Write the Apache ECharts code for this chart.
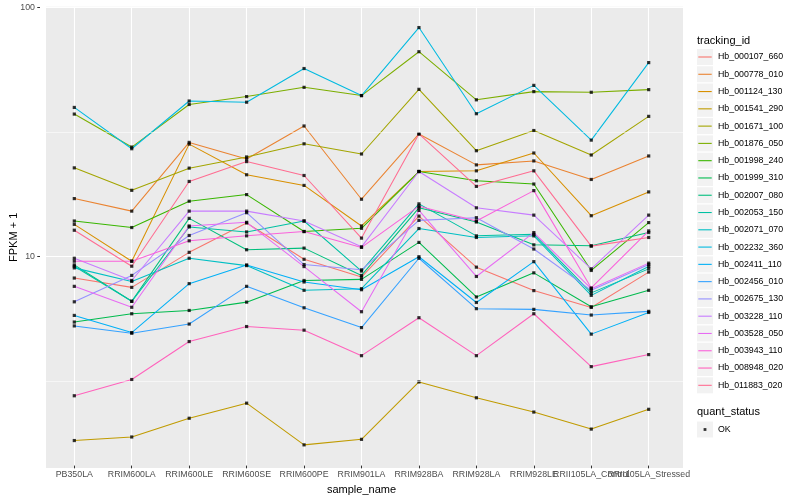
<!DOCTYPE html>
<html><head><meta charset="utf-8">
<script src="https://cdn.jsdelivr.net/npm/echarts@6.0.0/dist/echarts.min.js"></script>
<style>html,body{margin:0;padding:0;background:#fff}#c{width:800px;height:500px}</style>
</head><body><div id="c"></div>
<script>
const categories = ['PB350LA','RRIM600LA','RRIM600LE','RRIM600SE','RRIM600PE','RRIM901LA','RRIM928BA','RRIM928LA','RRIM928LE','RRII105LA_Control','RRII105LA_Stressed'];
const yTickRange = [10, 100];
const minorGridValues = [3.162, 31.62];
const seriesNames = ['Hb_000107_660','Hb_000778_010','Hb_001124_130','Hb_001541_290','Hb_001671_100','Hb_001876_050','Hb_001998_240','Hb_001999_310','Hb_002007_080','Hb_002053_150','Hb_002071_070','Hb_002232_360','Hb_002411_110','Hb_002456_010','Hb_002675_130','Hb_003228_110','Hb_003528_050','Hb_003943_110','Hb_008948_020','Hb_011883_020'];
const qualityLevels = ['OK'];

const hb_000107_660 = [8.07, 7.40, 10.25, 13.47, 9.61, 8.14, 14.36, 8.93, 7.18, 6.14, 8.53];
const hb_000778_010 = [16.90, 15.04, 28.50, 24.43, 33.20, 16.80, 30.84, 23.12, 23.99, 20.19, 25.12];
const hb_001124_130 = [13.30, 9.44, 28.05, 21.09, 19.10, 13.10, 21.74, 21.88, 25.82, 14.41, 17.98];
const hb_001541_290 = [1.78, 1.84, 2.19, 2.52, 1.71, 1.80, 3.07, 2.65, 2.32, 1.98, 2.38];
const hb_001671_100 = [22.49, 18.25, 22.43, 24.89, 28.13, 25.59, 46.69, 26.38, 31.83, 25.35, 36.31];
const hb_001876_050 = [37.09, 27.29, 40.55, 43.65, 47.56, 44.06, 66.25, 42.35, 45.71, 45.42, 46.56];
const hb_001998_240 = [13.72, 12.91, 16.49, 17.54, 12.44, 12.82, 21.74, 19.95, 19.35, 8.66, 13.52];
const hb_001999_310 = [5.36, 5.79, 5.97, 6.45, 7.89, 7.97, 11.24, 6.77, 8.47, 6.18, 7.20];
const hb_002007_080 = [9.12, 6.50, 14.06, 10.50, 10.66, 8.27, 15.51, 13.59, 10.99, 10.89, 12.32];
const hb_002053_150 = [9.01, 6.50, 12.98, 12.39, 13.72, 8.61, 16.09, 11.95, 12.13, 7.03, 8.79];
const hb_002071_070 = [8.87, 7.82, 9.70, 9.06, 7.20, 7.31, 12.79, 11.77, 11.95, 6.87, 8.98];
const hb_002232_360 = [39.45, 26.87, 41.88, 41.42, 56.66, 44.06, 82.94, 37.22, 48.44, 29.11, 59.88];
const hb_002411_110 = [5.70, 4.86, 7.66, 9.12, 7.78, 7.24, 9.84, 6.43, 9.40, 4.79, 5.86];
const hb_002456_010 = [5.17, 4.83, 5.26, 7.47, 6.12, 5.09, 9.70, 6.07, 6.03, 5.72, 5.92];
const hb_002675_130 = [6.47, 8.27, 11.99, 14.82, 9.15, 8.71, 13.80, 14.15, 10.57, 7.20, 9.15];
const hb_003228_110 = [9.70, 7.89, 15.04, 15.04, 13.72, 10.79, 21.74, 15.51, 14.49, 8.79, 14.49];
const hb_003528_050 = [7.47, 6.15, 13.10, 13.55, 8.98, 5.90, 15.14, 8.19, 12.32, 7.31, 9.27];
const hb_003943_110 = [9.44, 9.44, 11.41, 11.95, 12.44, 10.73, 15.75, 13.72, 18.20, 7.36, 12.51];
const hb_008948_020 = [2.70, 3.14, 4.47, 5.14, 4.97, 3.92, 5.58, 3.92, 5.79, 3.54, 3.96];
const hb_011883_020 = [12.59, 9.01, 19.82, 23.84, 20.95, 11.70, 30.84, 18.93, 21.88, 10.86, 11.77];

const seriesValues = [hb_000107_660, hb_000778_010, hb_001124_130, hb_001541_290, hb_001671_100, hb_001876_050, hb_001998_240, hb_001999_310, hb_002007_080, hb_002053_150, hb_002071_070, hb_002232_360, hb_002411_110, hb_002456_010, hb_002675_130, hb_003228_110, hb_003528_050, hb_003943_110, hb_008948_020, hb_011883_020];

const palette = ['#F8766D','#EA8331','#D89000','#C09B00','#A3A500','#7CAE00','#39B600','#00BB4E','#00BF7D','#00C1A3','#00BFC4','#00BAE0','#00B0F6','#35A2FF','#9590FF','#C77CFF','#E76BF3','#FA62DB','#FF62BC','#FF6C91'];

const FONT = "'Liberation Sans', Arial, Helvetica, sans-serif";
const Y_MIN = 1.41, Y_MAX = 100.7;
const PANEL_TOP = 6.7, PANEL_BOTTOM = 32, PANEL_LEFT = 40, PANEL_RIGHT = 117;
// layout of a helper grid whose vertical extent is exactly the 10..100 decade
const panelH = 500 - PANEL_TOP - PANEL_BOTTOM;
const pxPerDecade = panelH / (Math.log10(Y_MAX) - Math.log10(Y_MIN));
const tickGridTop = PANEL_TOP + pxPerDecade * (Math.log10(Y_MAX) - Math.log10(yTickRange[1]));
const tickGridBottom = 500 - (tickGridTop + pxPerDecade * (Math.log10(yTickRange[1]) - Math.log10(yTickRange[0])));

const chart = echarts.init(document.getElementById('c'), null, {renderer: 'canvas'});

const lineSeries = seriesNames.map((n, i) => ({
  name: n, type: 'line', xAxisIndex: 1, yAxisIndex: 1,
  data: seriesValues[i], symbol: 'none', showSymbol: false,
  lineStyle: {color: palette[i], width: 1.05}, itemStyle: {color: palette[i]},
  emphasis: {disabled: true}, silent: true, z: 2
}));

const pointData = [];
seriesValues.forEach(vals => vals.forEach((v, j) => pointData.push([j, v])));

const logLabel = v => {
  const l = Math.log10(v);
  return Math.abs(l - Math.round(l)) < 1e-6 ? String(Math.round(v)) : '';
};

const legendKeyY0 = 49, legendPitch = 17.28;
const graphics = seriesNames.map((n, i) => ({
  type: 'rect', silent: true, z: 0,
  shape: {x: 697, y: legendKeyY0 + i * legendPitch, width: 16, height: 16},
  style: {fill: '#F2F2F2'}
}));
graphics.push({type: 'rect', silent: true, z: 0, shape: {x: 697, y: 421.5, width: 16, height: 16}, style: {fill: '#F2F2F2'}});
graphics.push({type: 'text', z: 5, style: {x: 697, y: 40.7, text: 'tracking_id', fill: '#000', font: '11px ' + FONT, verticalAlign: 'middle'}});
graphics.push({type: 'text', z: 5, style: {x: 697, y: 412.3, text: 'quant_status', fill: '#000', font: '11px ' + FONT, verticalAlign: 'middle'}});

const option = {
  animation: false,
  backgroundColor: '#ffffff',
  textStyle: {fontFamily: FONT},
  grid: [
    {left: PANEL_LEFT, right: PANEL_RIGHT, top: PANEL_TOP, bottom: PANEL_BOTTOM, show: true, backgroundColor: '#EBEBEB', borderWidth: 0},
    {left: 74.3, right: 151.3, top: PANEL_TOP, bottom: PANEL_BOTTOM, show: false},
    {left: PANEL_LEFT, right: PANEL_RIGHT, top: tickGridTop, bottom: tickGridBottom, show: false}
  ],
  xAxis: [
    {type: 'value', gridIndex: 0, min: 0, max: 1, show: false},
    {type: 'category', gridIndex: 1, data: categories, boundaryGap: false,
     axisLine: {show: false},
     axisTick: {show: true, length: 2.75, lineStyle: {color: '#333333', width: 1}},
     axisLabel: {interval: 0, hideOverlap: false, fontSize: 8.8, color: '#4D4D4D', margin: 4.5, fontFamily: FONT},
     splitLine: {show: true, lineStyle: {color: '#ffffff', width: 1.1}},
     name: 'sample_name', nameLocation: 'middle', nameGap: 15,
     nameTextStyle: {fontSize: 11, color: '#000', fontFamily: FONT}},
    {type: 'value', gridIndex: 2, min: 0, max: 1, show: false}
  ],
  yAxis: [
    {type: 'log', logBase: 10, gridIndex: 0, min: Y_MIN, max: Y_MAX, show: true,
     axisLine: {show: false}, axisTick: {show: false}, axisLabel: {show: false}, splitLine: {show: false},
     name: 'FPKM + 1', nameLocation: 'middle', nameRotate: 90, nameGap: 27,
     nameTextStyle: {fontSize: 11, color: '#000', fontFamily: FONT}},
    {type: 'log', logBase: 10, gridIndex: 1, min: Y_MIN, max: Y_MAX, show: false},
    {type: 'log', logBase: 10, gridIndex: 2, min: yTickRange[0], max: yTickRange[1],
     axisLine: {show: false},
     axisTick: {show: true, length: 2.75, lineStyle: {color: '#333333', width: 1}},
     axisLabel: {formatter: logLabel, fontSize: 8.8, color: '#4D4D4D', margin: 5, fontFamily: FONT},
     splitLine: {show: true, lineStyle: {color: '#ffffff', width: 1.1}}}
  ],
  legend: [
    {data: seriesNames, orient: 'vertical', left: 697, top: legendKeyY0, padding: 0,
     itemWidth: 16, itemHeight: 16, itemGap: legendPitch - 16, selectedMode: false,
     icon: 'path://M0,0 M16,16 M1.3,7.45 L14.7,7.45 L14.7,8.55 L1.3,8.55 Z',
     textStyle: {fontSize: 8.8, color: '#000', fontFamily: FONT}},
    {data: qualityLevels, orient: 'vertical', left: 697, top: 421.5, padding: 0,
     itemWidth: 16, itemHeight: 16, selectedMode: false,
     icon: 'path://M0,0 M16,16 M6.6,6.6 L9.4,6.6 L9.4,9.4 L6.6,9.4 Z',
     itemStyle: {color: '#000'},
     textStyle: {fontSize: 8.8, color: '#000', fontFamily: FONT}}
  ],
  graphic: graphics,
  series: [
    {type: 'line', name: '_minorgrid', xAxisIndex: 0, yAxisIndex: 0, data: [], silent: true, z: 1,
     markLine: {silent: true, symbol: ['none', 'none'], label: {show: false}, animation: false,
       lineStyle: {color: '#ffffff', width: 0.55, type: 'solid'},
       emphasis: {disabled: true},
       data: minorGridValues.map(v => ({yAxis: v}))}},
    ...lineSeries,
    {type: 'scatter', name: 'OK', xAxisIndex: 1, yAxisIndex: 1, data: pointData,
     symbol: 'rect', symbolSize: 3.2, itemStyle: {color: '#000'}, silent: true, z: 3}
  ]
};
chart.setOption(option);
</script>
</body></html>
